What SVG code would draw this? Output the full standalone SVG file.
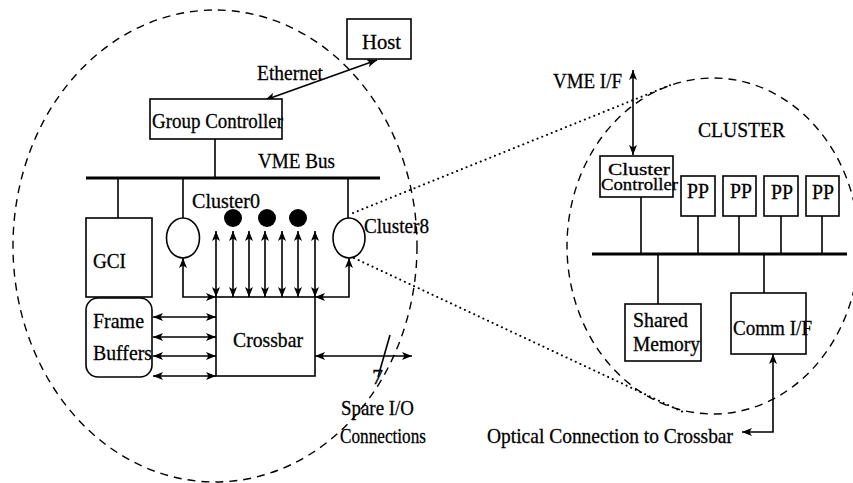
<svg xmlns="http://www.w3.org/2000/svg" width="853" height="483" viewBox="0 0 853 483">
<defs>
<marker id="ah" viewBox="0 0 10 8" refX="10" refY="4" markerWidth="10" markerHeight="8" markerUnits="userSpaceOnUse" orient="auto-start-reverse">
<path d="M0,0 L10,4 L0,8 L2.5,4 z" fill="#000"/>
</marker>
</defs>
<style>
.t{font-family:"Liberation Serif","Times New Roman",serif;font-size:22px;fill:#000;stroke:#000;stroke-width:0.3}
.s{font-size:17px}
.m{font-size:20px}
.p{font-size:20px}
.b{fill:#fff;stroke:#000;stroke-width:1.6}
.l{stroke:#000;stroke-width:1.6;fill:none}
.bus{stroke:#000;stroke-width:2.8;fill:none}
.dash{fill:none;stroke:#000;stroke-width:1.4;stroke-dasharray:8 6}
.dot{fill:none;stroke:#000;stroke-width:2;stroke-dasharray:0.1 5;stroke-linecap:round}
.ar2{stroke:#000;stroke-width:1.6;fill:none;marker-end:url(#ah);marker-start:url(#ah)}
</style>
<rect width="853" height="483" fill="#fff"/>
<g id="boundaries">
<ellipse class="dash" cx="215" cy="246" rx="202" ry="236"/>
<ellipse class="dash" cx="713" cy="246" rx="146" ry="168"/>
</g>
<g id="connectors">
<line class="dot" x1="353" y1="213" x2="673" y2="84"/>
<line class="dot" x1="354" y1="258" x2="683" y2="412"/>
<line class="ar2" x1="265" y1="100" x2="377" y2="60"/>
<line class="l" x1="215" y1="139" x2="215" y2="178"/>
<line class="bus" x1="86" y1="178" x2="380" y2="178"/>
<line class="l" x1="118" y1="178" x2="118" y2="218"/>
<line class="l" x1="183" y1="178" x2="183" y2="218"/>
<line class="l" x1="348" y1="178" x2="348" y2="218"/>
<line class="ar2" x1="216" y1="231" x2="216" y2="297"/>
<line class="ar2" x1="233" y1="231" x2="233" y2="297"/>
<line class="ar2" x1="249" y1="231" x2="249" y2="297"/>
<line class="ar2" x1="265" y1="231" x2="265" y2="297"/>
<line class="ar2" x1="282" y1="231" x2="282" y2="297"/>
<line class="ar2" x1="298" y1="231" x2="298" y2="297"/>
<line class="ar2" x1="315" y1="231" x2="315" y2="297"/>
<path class="ar2" d="M183,258 L183,297 L216,297"/>
<path class="ar2" d="M349,258 L349,297 L315,297"/>
<line class="ar2" x1="153" y1="317" x2="216" y2="317"/>
<line class="ar2" x1="153" y1="337" x2="216" y2="337"/>
<line class="ar2" x1="153" y1="356" x2="216" y2="356"/>
<line class="ar2" x1="153" y1="376" x2="216" y2="376"/>
<line class="ar2" x1="315" y1="356" x2="412" y2="356"/>
<line class="l" x1="390" y1="335" x2="378" y2="377"/>
<line class="ar2" x1="633" y1="70" x2="633" y2="155"/>
<line class="l" x1="641" y1="197" x2="641" y2="254"/>
<line class="l" x1="698" y1="216" x2="698" y2="254"/>
<line class="l" x1="739" y1="216" x2="739" y2="254"/>
<line class="l" x1="781" y1="216" x2="781" y2="254"/>
<line class="l" x1="822" y1="216" x2="822" y2="254"/>
<line class="bus" x1="592" y1="254" x2="847" y2="254"/>
<line class="l" x1="658" y1="254" x2="658" y2="304"/>
<line class="l" x1="764" y1="254" x2="764" y2="293"/>
<path class="ar2" d="M773,354 L773,432 L742,432"/>
</g>
<g id="host">
<rect class="b" x="347" y="19" width="64" height="40"/>
<text class="t" x="362" y="49" textLength="39" lengthAdjust="spacingAndGlyphs">Host</text>
</g>
<g id="ethernet-label">
<text class="t" x="257" y="80" textLength="66" lengthAdjust="spacingAndGlyphs">Ethernet</text>
</g>
<g id="group-controller">
<rect class="b" x="150" y="99" width="132" height="40"/>
<text class="t" x="152" y="128" textLength="131" lengthAdjust="spacingAndGlyphs">Group Controller</text>
</g>
<g id="vme-bus-label">
<text class="t" x="258" y="168" textLength="77" lengthAdjust="spacingAndGlyphs">VME Bus</text>
</g>
<g id="gci">
<rect class="b" x="86" y="218" width="66" height="79"/>
<text class="t" x="93" y="268" textLength="33" lengthAdjust="spacingAndGlyphs">GCI</text>
</g>
<g id="frame-buffers">
<rect class="b" x="86" y="298" width="66" height="79" rx="12"/>
<text class="t" x="93" y="328" textLength="51" lengthAdjust="spacingAndGlyphs">Frame</text>
<text class="t" x="93" y="360" textLength="59" lengthAdjust="spacingAndGlyphs">Buffers</text>
</g>
<g id="cluster0">
<ellipse class="b" cx="183" cy="238" rx="16.5" ry="20"/>
<text class="t" x="192" y="208" textLength="68" lengthAdjust="spacingAndGlyphs">Cluster0</text>
</g>
<g id="dots">
<circle cx="233" cy="218" r="9" fill="#000"/>
<circle cx="267" cy="218" r="9" fill="#000"/>
<circle cx="298" cy="218" r="9" fill="#000"/>
</g>
<g id="cluster8">
<ellipse class="b" cx="349" cy="238" rx="16" ry="20"/>
<text class="t" x="364" y="233" textLength="65" lengthAdjust="spacingAndGlyphs">Cluster8</text>
</g>
<g id="crossbar">
<rect class="b" x="216" y="297" width="99" height="79"/>
<text class="t" x="233" y="347" textLength="70" lengthAdjust="spacingAndGlyphs">Crossbar</text>
</g>
<g id="spare-io">
<text class="t" x="372" y="384" textLength="11" lengthAdjust="spacingAndGlyphs">7</text>
<text class="t" x="341" y="415" textLength="73" lengthAdjust="spacingAndGlyphs">Spare I/O</text>
<text class="t" x="340" y="443" textLength="86" lengthAdjust="spacingAndGlyphs">Connections</text>
</g>
<g id="vme-if-label">
<text class="t" x="553" y="88" textLength="69" lengthAdjust="spacingAndGlyphs">VME I/F</text>
</g>
<g id="cluster-label">
<text class="t" x="698" y="137" textLength="87" lengthAdjust="spacingAndGlyphs">CLUSTER</text>
</g>
<g id="cluster-controller">
<rect class="b" x="600" y="156" width="73" height="41"/>
<text class="t s" x="608" y="175" textLength="62" lengthAdjust="spacingAndGlyphs">Cluster</text>
<text class="t s" x="601" y="190" textLength="77" lengthAdjust="spacingAndGlyphs">Controller</text>
</g>
<g id="pp1">
<rect class="b" x="681" y="176" width="34" height="40"/>
<text class="t p" x="687" y="198" textLength="22" lengthAdjust="spacingAndGlyphs">PP</text>
</g>
<g id="pp2">
<rect class="b" x="723" y="176" width="33" height="40"/>
<text class="t p" x="730" y="198" textLength="22" lengthAdjust="spacingAndGlyphs">PP</text>
</g>
<g id="pp3">
<rect class="b" x="764" y="176" width="34" height="40"/>
<text class="t p" x="771" y="199" textLength="22" lengthAdjust="spacingAndGlyphs">PP</text>
</g>
<g id="pp4">
<rect class="b" x="806" y="176" width="33" height="40"/>
<text class="t p" x="812" y="199" textLength="22" lengthAdjust="spacingAndGlyphs">PP</text>
</g>
<g id="shared-memory">
<rect class="b" x="625" y="304" width="76" height="57"/>
<text class="t m" x="633" y="327" textLength="55" lengthAdjust="spacingAndGlyphs">Shared</text>
<text class="t m" x="633" y="351" textLength="67" lengthAdjust="spacingAndGlyphs">Memory</text>
</g>
<g id="comm-if">
<rect class="b" x="731" y="293" width="75" height="61"/>
<text class="t" x="733" y="335" textLength="79" lengthAdjust="spacingAndGlyphs">Comm I/F</text>
</g>
<g id="optical-label">
<text class="t" x="487" y="443" textLength="246" lengthAdjust="spacingAndGlyphs">Optical Connection to Crossbar</text>
</g>
</svg>
